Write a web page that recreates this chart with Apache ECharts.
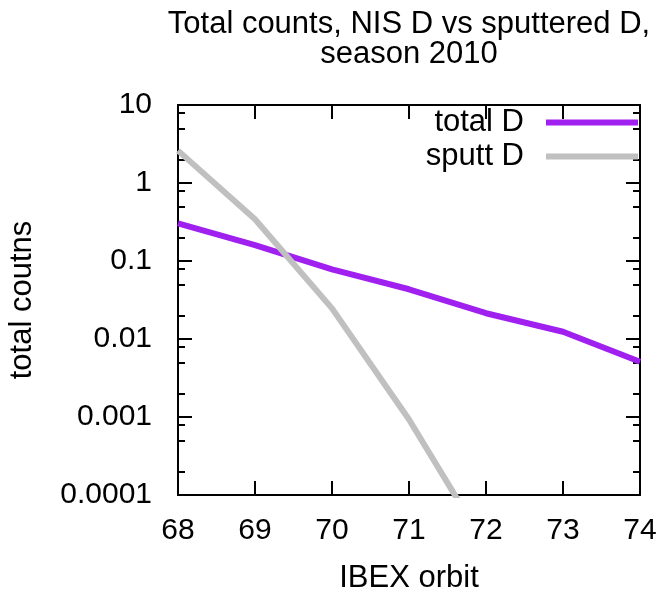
<!DOCTYPE html>
<html>
<head>
<meta charset="utf-8">
<script src="https://cdn.jsdelivr.net/npm/echarts@6/dist/echarts.min.js"></script>
<style>
  html, body { margin: 0; padding: 0; background: #fff; }
  #chart { width: 664px; height: 593px; }
</style>
</head>
<body>
<div id="chart"></div>
<script>
  // orbits and counts
  const orbits = [68, 69, 70, 71, 72, 73, 74];
  const totalD = [0.304, 0.160, 0.078, 0.0434, 0.0214, 0.0124, 0.0051];
  const sputtD = [2.6, 0.343, 0.0247, 0.00093, 0.000022, null, null];

  // tick positions (log10 space for the minor tick helpers)
  const minorFactors = [2, 5, 8];
  const decades = [-4, -3, -2, -1, 0];
  const minorTicks = [];
  decades.forEach(d => minorFactors.forEach(f => minorTicks.push(d + Math.log10(f))));

  const FONT = 'Liberation Sans';
  const FS = 30;      // tick labels
  const FS_TXT = 31;  // title, names, legend
  const black = '#000';

  const chart = echarts.init(document.getElementById('chart'), null, { renderer: 'canvas' });

  const pairs = arr => orbits.map((x, i) => [x, arr[i]]);

  const tickStyle = len => ({ inside: true, length: len, lineStyle: { color: black, width: 2 } });
  const frameLine = { onZero: false, lineStyle: { color: black, width: 2 } };

  const option = {
    animation: false,
    backgroundColor: '#fff',
    textStyle: { fontFamily: FONT },
    title: {
      text: 'Total counts, NIS D vs sputtered D,\nseason 2010',
      left: 404,
      top: 4,
      textAlign: 'center',
      textStyle: { fontFamily: FONT, fontSize: FS_TXT, fontWeight: 'normal', color: black, lineHeight: 30 }
    },
    legend: {
      orient: 'vertical',
      right: 21,
      top: 102,
      align: 'right',
      icon: 'rect',
      itemWidth: 92,
      itemHeight: 6,
      itemGap: 3,
      data: ['total D', 'sputt D'],
      textStyle: { fontFamily: FONT, fontSize: FS_TXT, color: black, padding: [0, 17, 0, 0] }
    },
    grid: { left: 178, right: 24, top: 105, bottom: 98, containLabel: false, outerBoundsMode: 'none' },
    xAxis: [
      {
        type: 'value', min: 68, max: 74, interval: 1,
        name: 'IBEX orbit', nameLocation: 'middle', nameGap: 68,
        nameTextStyle: { fontFamily: FONT, fontSize: FS_TXT, color: black },
        axisLine: frameLine,
        axisTick: tickStyle(14),
        axisLabel: { fontFamily: FONT, fontSize: FS, color: black, margin: 21 },
        splitLine: { show: false }
      },
      {
        type: 'value', min: 68, max: 74, interval: 1, position: 'top',
        axisLine: frameLine,
        axisTick: tickStyle(14),
        axisLabel: { show: false },
        splitLine: { show: false }
      }
    ],
    yAxis: [
      {
        type: 'log', min: 0.0001, max: 10, logBase: 10,
        name: 'total coutns', nameLocation: 'middle', nameGap: 140,
        nameTextStyle: { fontFamily: FONT, fontSize: FS_TXT, color: black },
        axisLine: frameLine,
        axisTick: tickStyle(14),
        axisLabel: {
          fontFamily: FONT, fontSize: FS, color: black, margin: 26, padding: [5, 0, 0, 0],
          formatter: v => String(+Number(v).toPrecision(3))
        },
        splitLine: { show: false }
      },
      {
        type: 'value', min: -4, max: 1, position: 'left',
        axisLine: { show: false, onZero: false },
        axisTick: Object.assign(tickStyle(7), { customValues: minorTicks }),
        axisLabel: { show: false },
        splitLine: { show: false }
      },
      {
        type: 'log', min: 0.0001, max: 10, logBase: 10, position: 'right',
        axisLine: frameLine,
        axisTick: tickStyle(14),
        axisLabel: { show: false },
        splitLine: { show: false }
      },
      {
        type: 'value', min: -4, max: 1, position: 'right',
        axisLine: { show: false, onZero: false },
        axisTick: Object.assign(tickStyle(7), { customValues: minorTicks }),
        axisLabel: { show: false },
        splitLine: { show: false }
      }
    ],
    series: [
      {
        name: 'total D', type: 'line', xAxisIndex: 0, yAxisIndex: 0,
        data: pairs(totalD), showSymbol: false, symbol: 'none',
        color: '#a020f0', lineStyle: { width: 6, color: '#a020f0' }, clip: true
      },
      {
        name: 'sputt D', type: 'line', xAxisIndex: 0, yAxisIndex: 0,
        data: pairs(sputtD), showSymbol: false, symbol: 'none', connectNulls: false,
        color: '#c0c0c0', lineStyle: { width: 6, color: '#c0c0c0' }, clip: true
      }
    ]
  };

  chart.setOption(option);
</script>
</body>
</html>
